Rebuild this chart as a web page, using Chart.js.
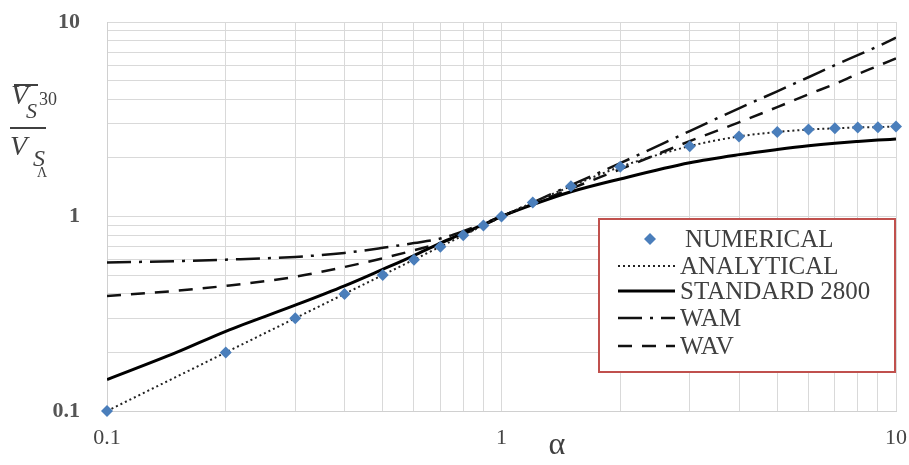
<!DOCTYPE html>
<html>
<head>
<meta charset="utf-8">
<script src="https://cdn.jsdelivr.net/npm/chart.js@4/dist/chart.umd.min.js"></script>
<style>
  html, body { margin: 0; padding: 0; background: #fff; }
  #wrap { position: relative; width: 909px; height: 465px; }
</style>
</head>
<body>
<div id="wrap"><canvas id="ratioChart" width="909" height="465"></canvas></div>
<script>
// alpha values where the numerical model was evaluated
const numAlpha = [0.1, 0.2, 0.3, 0.4, 0.5, 0.6, 0.7, 0.8, 0.9, 1, 1.2, 1.5, 2, 3, 4, 5, 6, 7, 8, 9, 10];
const numerical = [0.1, 0.2, 0.3, 0.4, 0.5, 0.6, 0.7, 0.8, 0.9, 1, 1.18, 1.43, 1.8, 2.3, 2.58, 2.72, 2.8, 2.84, 2.87, 2.88, 2.9];
const analytical = [0.1, 0.2, 0.3, 0.4, 0.5, 0.6, 0.7, 0.8, 0.9, 1, 1.18, 1.43, 1.8, 2.3, 2.58, 2.72, 2.8, 2.84, 2.87, 2.88, 2.9];

// alpha values for the code / approximate curves
const curveAlpha = [0.1, 0.15, 0.2, 0.3, 0.4, 0.5, 0.6, 0.7, 0.8, 0.9, 1, 1.2, 1.5, 2, 3, 4, 5, 6, 7, 8, 9, 10];
const standard2800 = [0.145, 0.2, 0.257, 0.35, 0.44, 0.535, 0.63, 0.73, 0.82, 0.91, 1, 1.15, 1.34, 1.56, 1.89, 2.08, 2.21, 2.31, 2.38, 2.43, 2.47, 2.5];
const wam = [0.58, 0.59, 0.6, 0.62, 0.65, 0.69, 0.73, 0.77, 0.84, 0.92, 1, 1.18, 1.45, 1.88, 2.75, 3.6, 4.4, 5.2, 6.0, 6.75, 7.5, 8.3];
const wav = [0.39, 0.415, 0.44, 0.49, 0.55, 0.61, 0.67, 0.73, 0.81, 0.9, 1, 1.16, 1.39, 1.75, 2.44, 3.05, 3.65, 4.25, 4.8, 5.4, 5.95, 6.5];

const gridTicks = [0.1, 0.2, 0.3, 0.4, 0.5, 0.6, 0.7, 0.8, 0.9, 1, 2, 3, 4, 5, 6, 7, 8, 9, 10];

const toXY = (xs, ys) => xs.map((x, i) => ({ x: x, y: ys[i] }));
const isDecade = v => Math.abs(Math.log10(v) - Math.round(Math.log10(v))) < 1e-6;

const serif = '"Liberation Serif", "DejaVu Serif", serif';
const ink = '#404040';

// y-axis title (fraction), x-axis title and legend box
const extras = {
  id: 'extras',
  afterDraw(chart) {
    const ctx = chart.ctx;
    ctx.save();
    ctx.fillStyle = ink;
    ctx.strokeStyle = ink;
    ctx.textBaseline = 'alphabetic';
    ctx.textAlign = 'left';

    // numerator: overline(V_S)^30
    ctx.font = 'italic 28px ' + serif;
    ctx.fillText('V', 11, 104);
    ctx.font = 'italic 22px ' + serif;
    ctx.fillText('S', 26, 118);
    ctx.font = '18px ' + serif;
    ctx.fillText('30', 39, 105);
    ctx.lineWidth = 2;
    ctx.beginPath(); ctx.moveTo(14, 85); ctx.lineTo(38, 85); ctx.stroke();

    // fraction bar
    ctx.beginPath(); ctx.moveTo(10, 128); ctx.lineTo(46, 128); ctx.stroke();

    // denominator: V_{S_Λ}
    ctx.font = 'italic 28px ' + serif;
    ctx.fillText('V', 10, 155);
    ctx.font = 'italic 24px ' + serif;
    ctx.fillText('S', 33, 166);
    ctx.font = '14px ' + serif;
    ctx.fillText('Λ', 37, 177);

    // x-axis title
    ctx.font = '32px ' + serif;
    ctx.textAlign = 'center';
    ctx.fillText('α', 557, 454);

    // legend box
    const bx = 599, by = 219, bw = 296, bh = 153;
    ctx.fillStyle = '#fff';
    ctx.fillRect(bx, by, bw, bh);
    ctx.strokeStyle = '#c0504d';
    ctx.lineWidth = 2;
    ctx.strokeRect(bx, by, bw, bh);

    const rows = [239, 266, 291, 318, 346];
    ctx.font = '25px ' + serif;
    ctx.textAlign = 'left';
    ctx.textBaseline = 'middle';
    chart.data.datasets.forEach((ds, i) => {
      const y = rows[i];
      if (ds.showLine === false) {
        ctx.fillStyle = ds.pointBackgroundColor;
        ctx.beginPath();
        ctx.moveTo(650, y - 6); ctx.lineTo(656, y); ctx.lineTo(650, y + 6); ctx.lineTo(644, y);
        ctx.closePath(); ctx.fill();
      } else {
        ctx.strokeStyle = ds.borderColor;
        ctx.lineWidth = ds.borderWidth;
        ctx.setLineDash(ds.borderDash || []);
        ctx.beginPath(); ctx.moveTo(618, y); ctx.lineTo(675, y); ctx.stroke();
        ctx.setLineDash([]);
      }
      ctx.fillStyle = ink;
      ctx.fillText(ds.label, i === 0 ? 685 : 680, y + 1);
    });
    ctx.restore();
  }
};

new Chart(document.getElementById('ratioChart'), {
  type: 'line',
  data: {
    datasets: [
      {
        label: 'NUMERICAL',
        data: toXY(numAlpha, numerical),
        showLine: false,
        pointStyle: 'rectRot',
        pointRadius: 6,
        pointBackgroundColor: '#4a7ebb',
        pointBorderColor: '#4a7ebb',
        pointBorderWidth: 0,
        clip: false,
      },
      {
        label: 'ANALYTICAL',
        data: toXY(numAlpha, analytical),
        borderColor: '#222',
        borderWidth: 2,
        borderDash: [2, 3],
        pointRadius: 0,
        cubicInterpolationMode: 'monotone',
      },
      {
        label: 'STANDARD 2800',
        data: toXY(curveAlpha, standard2800),
        borderColor: '#000',
        borderWidth: 3,
        pointRadius: 0,
        cubicInterpolationMode: 'monotone',
      },
      {
        label: 'WAM',
        data: toXY(curveAlpha, wam),
        borderColor: '#111',
        borderWidth: 2.5,
        borderDash: [24, 8, 3, 8],
        pointRadius: 0,
        cubicInterpolationMode: 'monotone',
      },
      {
        label: 'WAV',
        data: toXY(curveAlpha, wav),
        borderColor: '#111',
        borderWidth: 2.5,
        borderDash: [14, 10],
        pointRadius: 0,
        cubicInterpolationMode: 'monotone',
      },
    ],
  },
  options: {
    responsive: false,
    animation: false,
    layout: { padding: { top: 22, right: 13, left: 0, bottom: 0 } },
    plugins: {
      legend: { display: false },
      tooltip: { enabled: false },
    },
    scales: {
      x: {
        type: 'logarithmic',
        min: 0.1,
        max: 10,
        afterBuildTicks: s => { s.ticks = gridTicks.map(v => ({ value: v })); },
        afterFit: s => { s.height = 54; s.paddingLeft = 0; s.paddingRight = 0; },
        grid: { color: '#d9d9d9', drawTicks: false },
        border: { color: '#d0d0d0' },
        ticks: {
          autoSkip: false,
          maxRotation: 0,
          padding: 14,
          color: '#444',
          font: { family: serif, size: 22 },
          callback: v => isDecade(v) ? String(v) : '',
        },
      },
      y: {
        type: 'logarithmic',
        min: 0.1,
        max: 10,
        afterBuildTicks: s => { s.ticks = gridTicks.map(v => ({ value: v })); },
        afterFit: s => { s.width = 107; s.paddingTop = 0; s.paddingBottom = 0; },
        grid: { color: '#d9d9d9', drawTicks: false },
        border: { color: '#d0d0d0' },
        ticks: {
          autoSkip: false,
          padding: 27,
          color: '#555',
          font: { family: serif, size: 22, weight: 'bold' },
          callback: v => isDecade(v) ? String(v) : '',
        },
      },
    },
  },
  plugins: [extras],
});
</script>
</body>
</html>
